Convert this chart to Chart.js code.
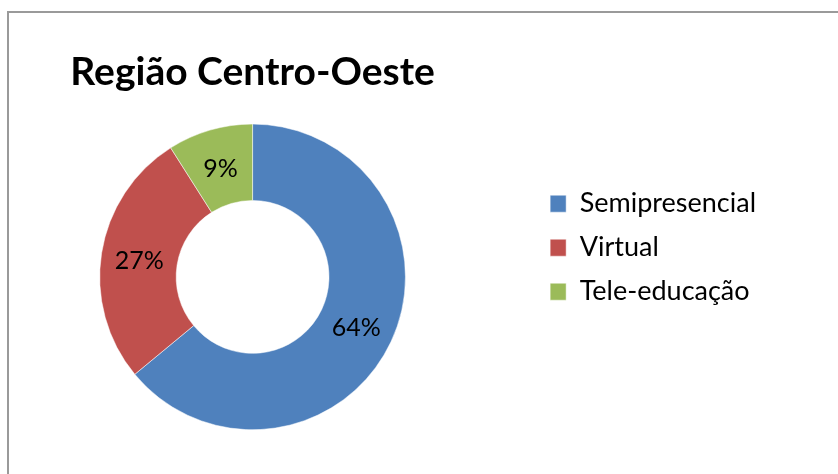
<!DOCTYPE html>
<html>
<head>
<meta charset="utf-8">
<script src="https://cdn.jsdelivr.net/npm/chart.js@4/dist/chart.umd.min.js"></script>
<style>
  html, body { margin: 0; padding: 0; background: #fff; overflow: hidden; }
  #frame {
    position: absolute; left: 7px; top: 11px; width: 900px; height: 600px;
    border-left: 2px solid #9a9a9a; border-top: 2px solid #9a9a9a;
  }
  /* canvas starts a bit left of the page so the ring sits where the original has it */
  #wrap { position: absolute; left: -28px; top: 0; width: 866px; height: 474px; }
</style>
</head>
<body>
<div id="frame"></div>
<div id="wrap"><canvas id="donut"></canvas></div>
<script>
// chart data
const categories = ['Semipresencial', 'Virtual', 'Tele-educação'];
const shares = [64, 27, 9];
const shareLabels = ['64%', '27%', '9%'];
const colors = ['#4F81BD', '#C0504D', '#9BBB59'];

// writes the percentage in the middle of every slice
const sliceLabels = {
    id: 'sliceLabels',
    afterDatasetsDraw(chart) {
        const ctx = chart.ctx;
        const meta = chart.getDatasetMeta(0);
        ctx.save();
        ctx.font = '25px Lato';
        ctx.fillStyle = '#000';
        ctx.textAlign = 'center';
        ctx.textBaseline = 'middle';
        meta.data.forEach((arc, i) => {
            const pos = arc.tooltipPosition();
            ctx.fillText(shareLabels[i], pos.x, pos.y + 2);
        });
        ctx.restore();
    }
};

const ctx = document.getElementById('donut').getContext('2d');
new Chart(ctx, {
    type: 'doughnut',
    data: {
        labels: categories,
        datasets: [{
            data: shares,
            backgroundColor: colors,
            borderColor: '#fff',
            borderWidth: 0.5
        }]
    },
    options: {
        responsive: true,
        maintainAspectRatio: false,
        animation: false,
        cutout: '50%',
        layout: {
            padding: { left: 0, right: 72, top: 0, bottom: 44 }
        },
        plugins: {
            title: {
                display: true,
                text: 'Região Centro-Oeste',
                fullSize: false,
                align: 'center',
                color: '#000',
                font: { family: 'Lato', size: 39, weight: 'bold' },
                padding: { top: 49, bottom: 28 }
            },
            legend: {
                position: 'right',
                align: 'start',
                // empty title only used to push the items down
                title: {
                    display: true,
                    text: '',
                    font: { size: 1 },
                    padding: { top: 172, bottom: 0 }
                },
                labels: {
                    boxWidth: 16,
                    boxHeight: 17,
                    padding: 17,
                    color: '#000',
                    font: { family: 'Lato', size: 27 }
                }
            },
            tooltip: { enabled: false }
        }
    },
    plugins: [sliceLabels]
});
</script>
</body>
</html>
